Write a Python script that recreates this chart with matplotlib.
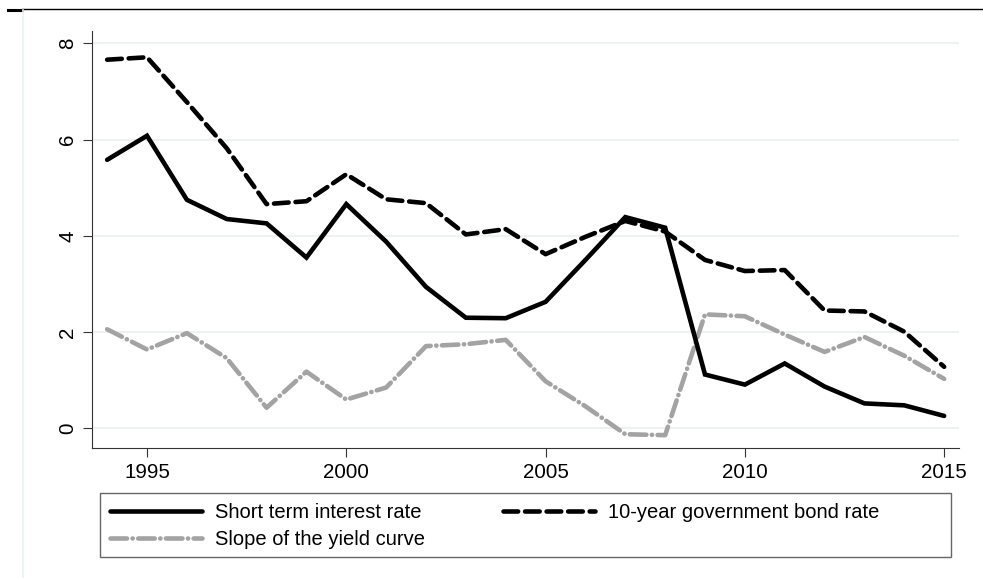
import matplotlib
matplotlib.use("Agg")
import matplotlib.pyplot as plt
from matplotlib.lines import Line2D
from matplotlib.patches import Rectangle

plt.rcParams['font.family'] = ['Liberation Sans', 'DejaVu Sans']

# Data
years = list(range(1994, 2016))
short_rate = [5.58, 6.08, 4.75, 4.35, 4.26, 3.55, 4.66, 3.88, 2.94, 2.30, 2.29,
              2.63, 3.50, 4.39, 4.17, 1.12, 0.91, 1.35, 0.87, 0.52, 0.48, 0.26]
long_rate = [7.66, 7.71, 6.78, 5.82, 4.66, 4.72, 5.28, 4.76, 4.68, 4.03, 4.14,
             3.62, 3.98, 4.31, 4.09, 3.50, 3.27, 3.29, 2.45, 2.43, 2.01, 1.28]
slope = [2.06, 1.64, 1.98, 1.46, 0.43, 1.18, 0.60, 0.85, 1.71, 1.75, 1.84,
         0.98, 0.46, -0.12, -0.14, 2.37, 2.33, 1.95, 1.59, 1.90, 1.51, 1.03]
labels = ["Short term interest rate", "10-year government bond rate",
          "Slope of the yield curve"]
xticks = [1995, 2000, 2005, 2010, 2015]
yticks = [0, 2, 4, 6, 8]

grid_col = '#eaf2f3'
grey = '#a3a3a3'
W, H = 983, 578
fs = 14.8       # tick labels
fs_leg = 14.5   # legend text

fig = plt.figure(figsize=(W / 100, H / 100), dpi=100)
ax = fig.add_axes([92 / W, 1 - 447.7 / H, (959.3 - 92) / W, (447.7 - 31) / H])

lw = 3.3
l1, = ax.plot(years, short_rate, color='black', lw=lw, solid_joinstyle='miter',
              solid_capstyle='round', zorder=3)
l2, = ax.plot(years, long_rate, color='black', lw=lw, dashes=(3.2, 1.5),
              dash_capstyle='round', zorder=3)
l3, = ax.plot(years, slope, color=grey, lw=lw, dashes=(3.6, 1.2, 0.05, 1.2),
              dash_capstyle='round', zorder=2)

ax.set_xlim(1993.62, 2015.38)
ax.set_ylim(-0.40, 8.256)
ax.set_xticks(xticks)
ax.set_yticks(yticks)
ax.set_yticklabels([str(v) for v in yticks], rotation=90, va='center')
ax.tick_params(axis='both', labelsize=fs, length=6.5, width=0.8, color='#333333')
ax.tick_params(axis='y', pad=4)
ax.tick_params(axis='x', pad=4.5)
ax.yaxis.grid(True, color=grid_col, lw=1.5)
ax.set_axisbelow(True)
for s in ['top', 'right']:
    ax.spines[s].set_visible(False)
for s in ['left', 'bottom']:
    ax.spines[s].set_color('#333333')
    ax.spines[s].set_linewidth(0.8)

# legend below the plot: frame drawn separately, entries placed inside it
fig.add_artist(Rectangle((100 / W, 1 - 557.3 / H), 851 / W, 64.6 / H,
                         transform=fig.transFigure, facecolor='none',
                         edgecolor='#666666', lw=1.0, zorder=-1))
px = fs_leg * 100 / 72
leg = ax.legend([l1, l3, l2], [labels[0], labels[2], labels[1]], ncol=2,
                loc='center left', bbox_to_anchor=(110 / W, 1 - 526 / H),
                bbox_transform=fig.transFigure, fontsize=fs_leg,
                handlelength=92 / px, handletextpad=13 / px, borderaxespad=0,
                borderpad=0, labelspacing=0.44, columnspacing=78 / px,
                frameon=False)

# outer frame pieces from the source graphic
fig.add_artist(Line2D([22 / W, 1], [1 - 9.3 / H] * 2, color='black', lw=1.0,
                      transform=fig.transFigure))
fig.add_artist(Line2D([8 / W, 22 / W], [1 - 10 / H] * 2, color='black', lw=2.2,
                      transform=fig.transFigure))
fig.add_artist(Line2D([22.5 / W] * 2, [0, 1 - 10 / H], color=grid_col, lw=1.2,
                      transform=fig.transFigure))

fig.savefig('out.png', dpi=100)
